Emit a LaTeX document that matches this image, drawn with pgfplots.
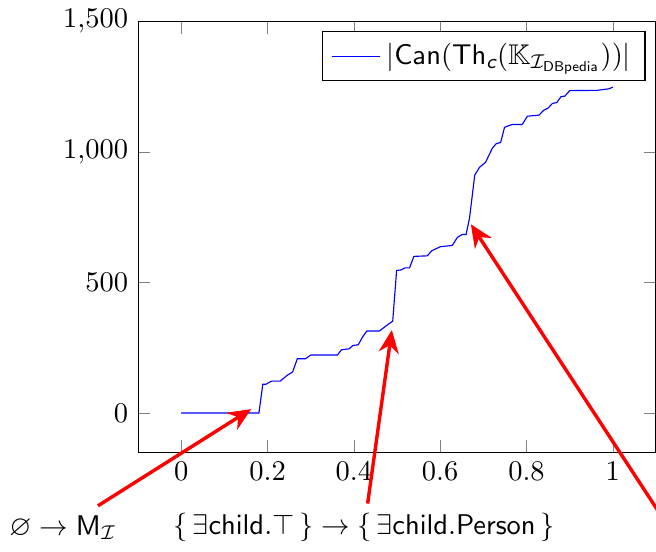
\documentclass[border=0pt]{standalone}
\usepackage{amsmath,amssymb}
\usepackage{pgfplots}
\pgfplotsset{compat=1.18}
\usetikzlibrary{arrows.meta}
\begin{document}
\begin{tikzpicture}[trim axis right]
\begin{axis}[
  scale only axis,
  width=181.8pt, height=151.2pt,
  xmin=-0.1, xmax=1.1,
  ymin=-150, ymax=1500,
  xtick={0,0.2,0.4,0.6,0.8,1},
  ytick={0,500,1000,1500},
  legend style={at={(0.98,0.977)}, anchor=north east},
  clip=false,
]
\addplot[color=blue, no marks] coordinates {
(0,0) (0.18,0) (0.189,110) (0.196,110) (0.209,122) (0.229,122) (0.246,145) (0.258,157)
(0.269,208) (0.288,208) (0.300,222) (0.362,222) (0.371,242) (0.389,246) (0.398,259)
(0.410,261) (0.420,291) (0.430,314) (0.459,314) (0.474,333) (0.490,352) (0.499,546)
(0.509,548) (0.519,556) (0.529,556) (0.539,600) (0.570,602) (0.580,621) (0.600,637)
(0.628,642) (0.640,673) (0.651,684) (0.660,684) (0.668,747) (0.680,911) (0.691,941)
(0.705,960) (0.721,1015) (0.730,1032) (0.740,1036) (0.749,1094) (0.759,1101)
(0.767,1105) (0.790,1105) (0.802,1137) (0.829,1141) (0.840,1160) (0.850,1168)
(0.860,1186) (0.870,1189) (0.880,1212) (0.889,1214) (0.900,1235) (0.964,1236)
(0.991,1242) (1.0,1248)
};
\addlegendentry{$|\mathsf{Can}(\mathsf{Th}_{\text{\sffamily\itshape c}}(\mathbb{K}_{\mathcal{I}_{\mathsf{DBpedia}}}))|$}
\node (a) at (axis cs:-0.274,-440) {$\varnothing \to \mathsf{M}_{\mathcal{I}}$};
\node (b) at (axis cs:0.424,-440) {$\{\,\exists\mathsf{child}.\top\,\} \to \{\,\exists\mathsf{child}.\mathsf{Person}\,\}$};
\draw[red, very thick, -{Stealth[length=8pt,width=7pt]}] (a) -- (axis cs:0.162,15);
\draw[red, very thick, -{Stealth[length=8pt,width=7pt]}] (b) -- (axis cs:0.488,318);
\draw[red, very thick, -{Stealth[length=8pt,width=7pt]}] (axis cs:1.11,-388) -- (axis cs:0.671,723);
\end{axis}
\end{tikzpicture}
\end{document}
